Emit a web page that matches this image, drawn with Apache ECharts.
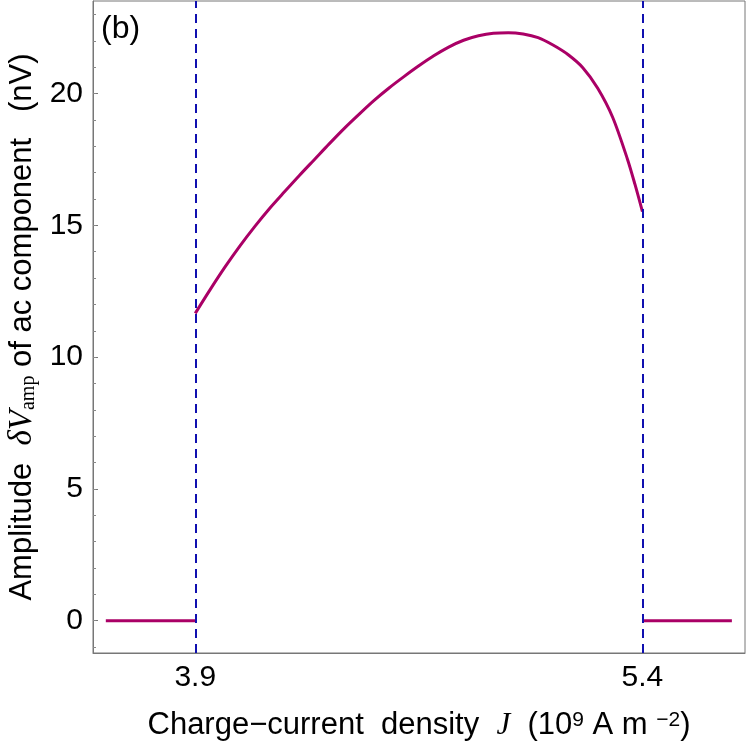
<!DOCTYPE html>
<html>
<head>
<meta charset="utf-8">
<script src="https://cdn.jsdelivr.net/npm/echarts@6/dist/echarts.min.js"></script>
<style>
  html, body { margin: 0; padding: 0; background: #fff; }
  #main { width: 747px; height: 747px; }
</style>
</head>
<body>
<div id="main"></div>
<script>
// curve between the two thresholds (J in 10^9 A m^-2, amplitude in nV)
var currentJ = [3.90, 3.95, 4.00, 4.05, 4.10, 4.15, 4.20, 4.25, 4.30, 4.35, 4.40, 4.45, 4.50, 4.55, 4.60,
  4.65, 4.70, 4.75, 4.80, 4.85, 4.90, 4.95, 5.00, 5.05, 5.10, 5.15, 5.20, 5.25, 5.30, 5.35, 5.375, 5.40];
var amplitudeNV = [11.66, 12.56, 13.42, 14.22, 14.96, 15.65, 16.28, 16.9, 17.5, 18.1, 18.68, 19.22, 19.74, 20.21, 20.64,
  21.05, 21.43, 21.76, 22.02, 22.19, 22.29, 22.31, 22.26, 22.12, 21.84, 21.48, 20.98, 20.2, 19.1, 17.5, 16.55, 15.52];
// flat parts outside the window
var zeroLeftJ = [3.6, 3.9];
var zeroRightJ = [5.4, 5.7];
var thresholds = [3.9, 5.4];
var xTicks = [3.9, 5.4];
var yTicks = [0, 5, 10, 15, 20];
var yMinorTicks = [-1, 0, 1, 2, 3, 4, 5, 6, 7, 8, 9, 10, 11, 12, 13, 14, 15, 16, 17, 18, 19, 20, 21, 22, 23];

var curveColor = '#aa0066';
var dashColor = '#1010b0';
var sans = '"Liberation Sans", Arial, sans-serif';
var serif = '"Liberation Serif", "Times New Roman", serif';

function pairs(xs, ys) {
  var out = [];
  for (var i = 0; i < xs.length; i++) out.push([xs[i], ys[i]]);
  return out;
}

var chart = echarts.init(document.getElementById('main'));
chart.setOption({
  animation: false,
  textStyle: { fontFamily: sans },
  grid: {
    left: 93, right: 2, top: 1, bottom: 94, outerBoundsMode: 'none', containLabel: false,
    show: true, borderColor: '#777', borderWidth: 1
  },
  xAxis: {
    type: 'value', min: 3.557, max: 5.744,
    name: 'Charge\u2212current  density  {it|J}  (10{sup|9} A m {sup|\u22122})',
    nameLocation: 'middle', nameGap: 57,
    nameTextStyle: {
      fontSize: 31, color: '#000', fontFamily: sans,
      rich: {
        it: { fontFamily: serif, fontStyle: 'italic', fontSize: 31, color: '#000' },
        sup: { fontSize: 21, color: '#000', verticalAlign: 'top', fontFamily: sans }
      }
    },
    axisLine: { onZero: false, lineStyle: { color: '#777' } },
    axisTick: { inside: true, length: 4, customValues: xTicks, lineStyle: { color: '#777' } },
    axisLabel: { customValues: xTicks, fontSize: 30, color: '#000', margin: 10,
      formatter: function (v) { return v.toFixed(1); } },
    splitLine: { show: false }
  },
  yAxis: [{
    type: 'value', min: -1.225, max: 23.51,
    name: 'Amplitude  {it|\u03b4V}{sub|amp} of ac component   (nV)',
    nameLocation: 'middle', nameGap: 52,
    nameTextStyle: {
      fontSize: 31, color: '#000', fontFamily: sans,
      rich: {
        it: { fontFamily: serif, fontStyle: 'italic', fontSize: 33, color: '#000' },
        sub: { fontFamily: serif, fontSize: 20, color: '#000', verticalAlign: 'bottom' }
      }
    },
    axisLine: { onZero: false, lineStyle: { color: '#777' } },
    axisTick: { inside: true, length: 5, customValues: yTicks, lineStyle: { color: '#777' } },
    axisLabel: { customValues: yTicks, fontSize: 30, color: '#000', margin: 10 },
    splitLine: { show: false }
  }, {
    type: 'value', min: -1.225, max: 23.51, position: 'left',
    axisLine: { show: false },
    axisTick: { inside: true, length: 3, customValues: yMinorTicks, lineStyle: { color: '#888' } },
    axisLabel: { show: false },
    splitLine: { show: false }
  }],
  graphic: [{
    type: 'text', left: 101, top: 13,
    style: { text: '(b)', fontSize: 32, fontFamily: sans, fill: '#000' }
  }],
  series: [
    {
      type: 'line', data: pairs(zeroLeftJ, [0, 0]), symbol: 'none',
      lineStyle: { color: curveColor, width: 3 }
    },
    {
      type: 'line', data: pairs(currentJ, amplitudeNV), symbol: 'none', smooth: 0.3,
      lineStyle: { color: curveColor, width: 3 }
    },
    {
      type: 'line', data: pairs(zeroRightJ, [0, 0]), symbol: 'none',
      lineStyle: { color: curveColor, width: 3 },
      markLine: {
        silent: true, symbol: 'none', label: { show: false },
        lineStyle: { color: dashColor, type: [9, 6], width: 2 },
        data: thresholds.map(function (t) { return { xAxis: t }; })
      }
    }
  ]
});
</script>
</body>
</html>
